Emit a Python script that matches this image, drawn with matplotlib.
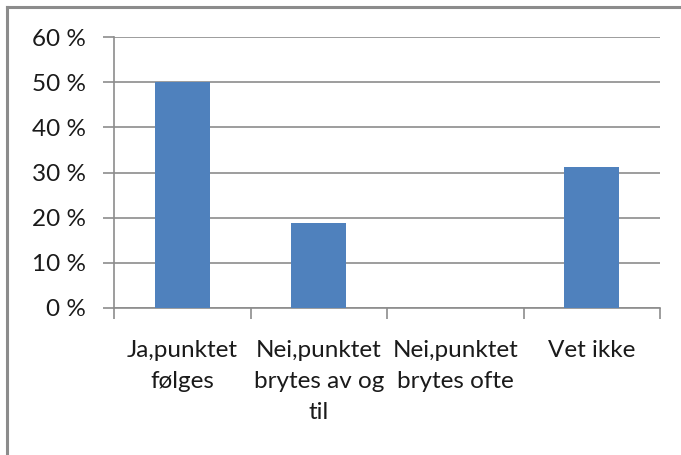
import matplotlib
matplotlib.use("Agg")
import matplotlib.pyplot as plt
from matplotlib.lines import Line2D

categories = ["Ja,punktet\nfølges", "Nei,punktet\nbrytes av og\ntil",
              "Nei,punktet\nbrytes ofte", "Vet ikke"]
values = [50.0, 18.75, 0.0, 31.25]
yticks = [0, 10, 20, 30, 40, 50, 60]
ytick_labels = [f"{v} %" for v in yticks]

plt.rcParams["font.family"] = ["Lato", "DejaVu Sans"]

W, H = 681, 455
fig = plt.figure(figsize=(W / 100, H / 100), dpi=100)
fig.patch.set_facecolor("white")

# frame of the chart area (left and top edges)
fig.add_artist(Line2D([7 / W, 7 / W], [0, 1 - 7 / H], color="#8c8c8c", lw=2.2,
                      transform=fig.transFigure))
fig.add_artist(Line2D([7 / W, 1], [1 - 7 / H, 1 - 7 / H], color="#8c8c8c", lw=2.2,
                      transform=fig.transFigure))

left, right = 114 / W, 660 / W
bottom, top = 1 - 308 / H, 1 - 37 / H
ax = fig.add_axes([left, bottom, right - left, top - bottom])

x = range(len(categories))
ax.bar(x, values, width=0.4, color="#4F81BD", zorder=3)

ax.set_xlim(-0.5, len(categories) - 0.5)
ax.set_ylim(0, 60)
ax.set_yticks(yticks)
ax.set_yticklabels(ytick_labels, fontsize=17.5)
ax.yaxis.grid(True, color="#8c8c8c", lw=1.2, zorder=0)

ax.set_xticks([i - 0.5 for i in range(len(categories) + 1)], minor=False)
ax.set_xticklabels([])
for i, lab in enumerate(categories):
    ax.text(i, -0.118, lab, transform=ax.get_xaxis_transform(), ha="center",
            va="top", fontsize=17.5, linespacing=1.6, color="#1a1a1a")

ax.tick_params(axis="y", length=8, width=1.2, color="#8c8c8c", pad=12,
               labelcolor="#1a1a1a")
ax.tick_params(axis="x", length=8, width=1.2, color="#8c8c8c", direction="out")

for side in ["top", "right"]:
    ax.spines[side].set_visible(False)
for side in ["left", "bottom"]:
    ax.spines[side].set_color("#8c8c8c")
    ax.spines[side].set_linewidth(1.2)

fig.savefig("out.png", dpi=100)
